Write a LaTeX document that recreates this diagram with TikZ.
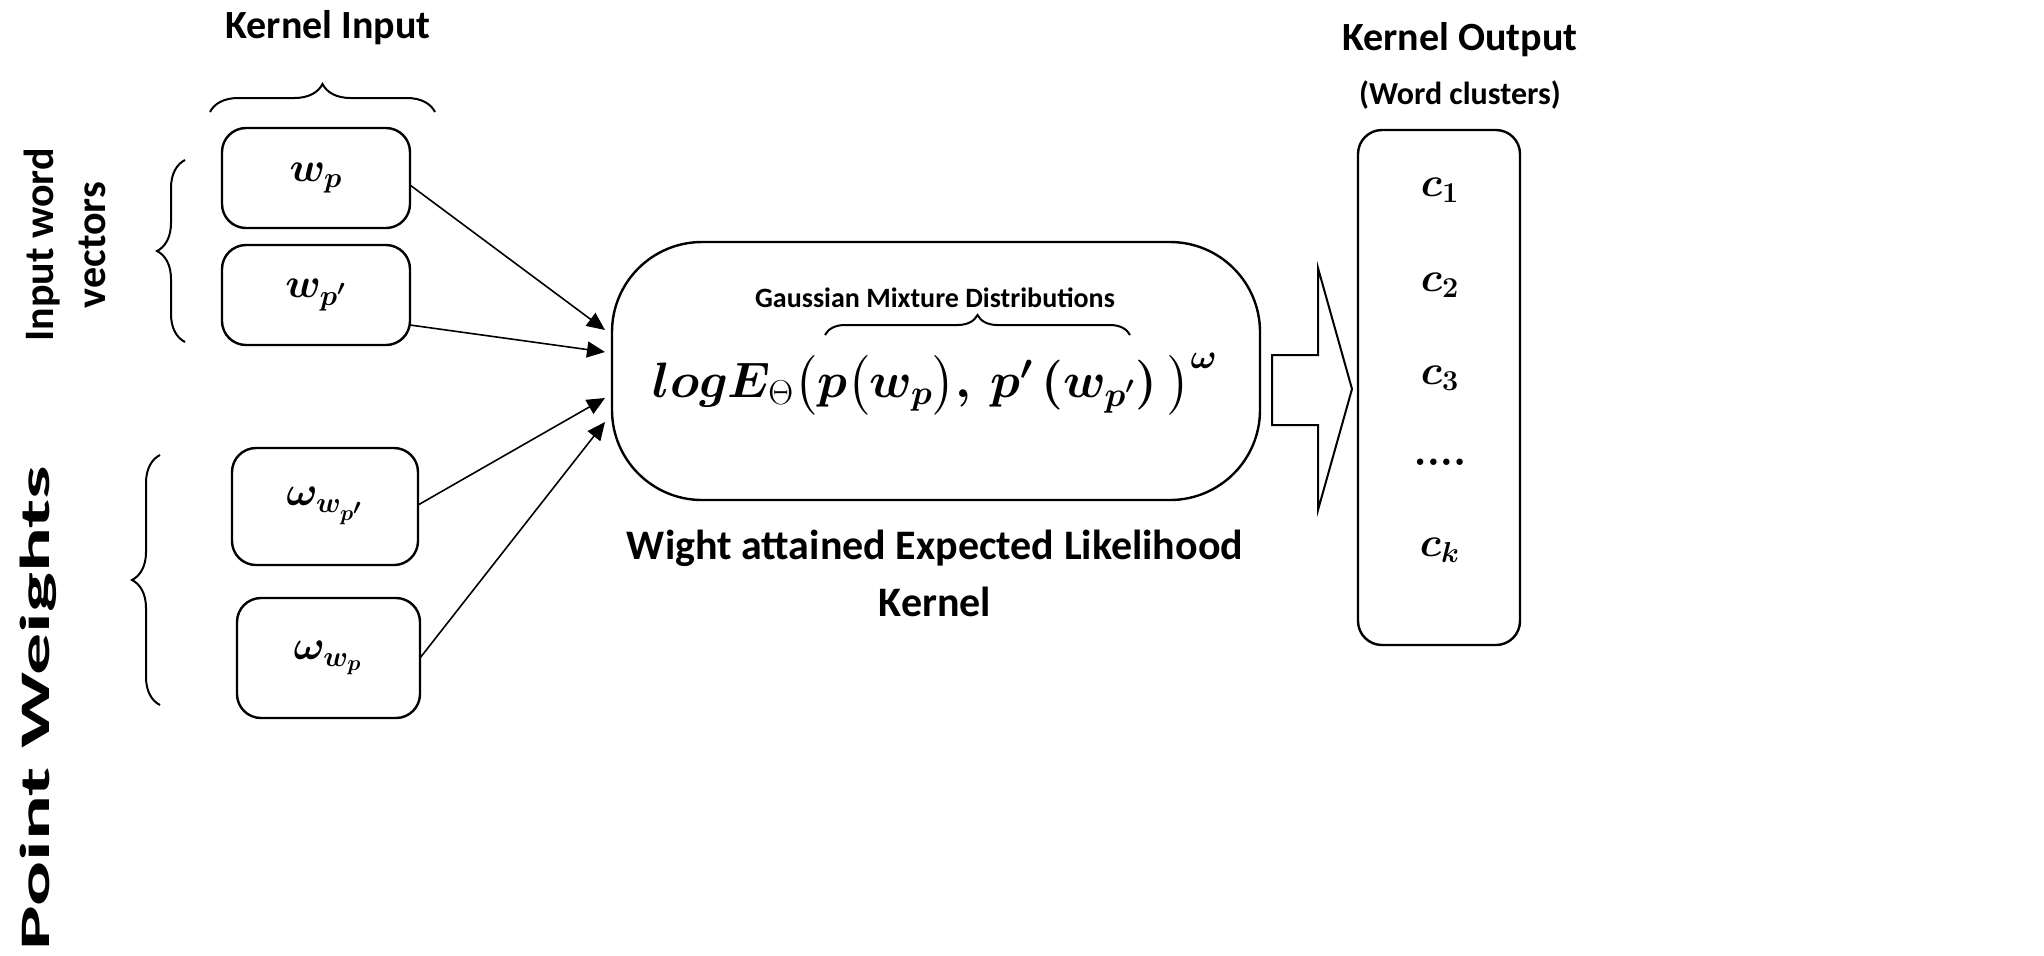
\documentclass[tikz,border=0pt]{standalone}
\usepackage{amsmath,bm}
\usepackage{fontspec}
\setmainfont{Carlito}
\usetikzlibrary{decorations.pathreplacing,arrows.meta}
\begin{document}
\begin{tikzpicture}[x=0.5pt,y=-0.5pt,
  box/.style={draw,line width=1.2pt,rounded corners=12pt},
  lbl/.style={font=\bfseries\fontsize{20}{23}\selectfont},
  mth/.style={font=\fontsize{21}{24}\selectfont},
  br/.style={decorate,decoration={brace,amplitude=14pt},line width=1pt},
  arr/.style={-{Triangle[length=9pt,width=8pt]},line width=0.8pt}]
\useasboundingbox (0,0) rectangle (2044,955);
\node[lbl] (ki) at (328,28) {Kernel Input};
\draw[br] (210,112) -- (435,112);
\draw[box] (222,128) rectangle (410,228); \node[mth] (a) at (316,178) {$\bm{w_p}$};
\draw[box] (222,245) rectangle (410,345); \node[mth] (b) at (316,295) {$\bm{w_{p'}}$};
\draw[box] (232,448) rectangle (418,565); \node[mth] (c) at (325,506) {$\bm{\omega_{w_{p'}}}$};
\draw[box] (237,598) rectangle (420,718); \node[mth] (d) at (328,658) {$\bm{\omega_{w_p}}$};
\draw[br] (185,342) -- (185,160);
\draw[br] (160,705) -- (160,455);
\node[font=\bfseries\fontsize{21}{26}\selectfont,rotate=90,align=center] (iw) at (65,245) {Input word\\vectors};
\node[font=\bfseries\fontsize{21}{26}\selectfont,rotate=90] (pw) at (38,708) {\scalebox{2}[1]{Point Weights}};
\draw[box,rounded corners=45pt] (612,242) rectangle (1260,500);
\node[font=\bfseries\fontsize{14}{16}\selectfont] (g) at (935,298) {Gaussian Mixture Distributions};
\draw[decorate,decoration={brace,amplitude=10pt},line width=1pt] (825,335) -- (1130,335);
\node[font=\fontsize{23}{27}\selectfont] (f) at (935,384) {$\bm{logE}_{\Theta}\bm{\big(p\big(w_p\big),\ p'\,(w_{p'})\ \big)^{\omega}}$};
\node[lbl,font=\bfseries\fontsize{21}{24}\selectfont] (cap1) at (935,548) {Wight attained Expected Likelihood};
\node[lbl,font=\bfseries\fontsize{21}{24}\selectfont] (cap2) at (935,602) {Kernel};
\coordinate (t1) at (605,330); \coordinate (t2) at (605,352);
\coordinate (t3) at (605,398); \coordinate (t4) at (605,422);
\draw[arr] (410,185) -- (t1);
\draw[arr] (410,325) -- (t2);
\draw[arr] (418,505) -- (t3);
\draw[arr] (420,658) -- (t4);
\draw[line width=1pt] (1272,355) -- (1318,355) -- (1318,268) -- (1352,389) -- (1318,510) -- (1318,425) -- (1272,425) -- cycle;
\draw[box] (1358,130) rectangle (1520,645);
\node[mth] (c1) at (1440,190) {$\bm{c_1}$};
\node[mth] (c2) at (1440,285) {$\bm{c_2}$};
\node[mth] (c3) at (1440,378) {$\bm{c_3}$};
\node[mth] (cd) at (1440,462) {$\bm{....}$};
\node[mth] (ck) at (1440,550) {$\bm{c_k}$};
\node[lbl] (ko) at (1460,40) {Kernel Output};
\node[font=\bfseries\fontsize{16}{18}\selectfont] (wc) at (1460,95) {(Word clusters)};
\end{tikzpicture}
\end{document}
